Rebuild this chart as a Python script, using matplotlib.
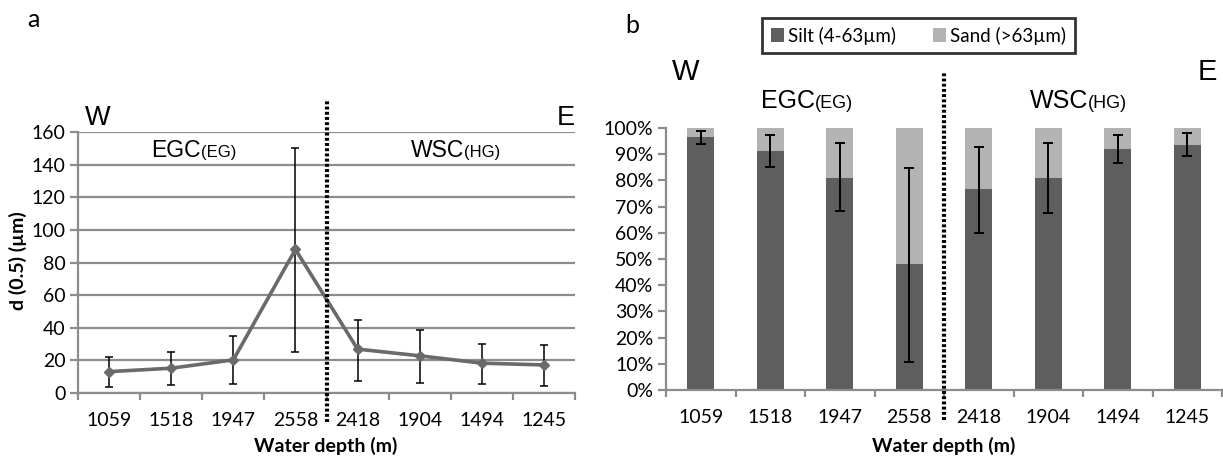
import matplotlib
matplotlib.use("Agg")
import matplotlib.pyplot as plt
from matplotlib.patches import Patch
import numpy as np

# ---------------- data ----------------
categories = ["1059", "1518", "1947", "2558", "2418", "1904", "1494", "1245"]
d50 = [13.1, 15.2, 20.3, 88.0, 26.9, 22.8, 18.3, 17.2]
d50_low = [3.9, 4.7, 5.5, 25.4, 7.6, 6.0, 5.3, 4.5]
d50_high = [22.3, 25.4, 34.7, 150.2, 44.9, 38.8, 30.0, 29.3]

silt = [96.4, 91.3, 81.0, 48.0, 76.6, 80.8, 91.9, 93.5]
sand = [3.6, 8.7, 19.0, 52.0, 23.4, 19.2, 8.1, 6.5]
silt_low = [93.8, 85.2, 68.3, 10.8, 59.8, 67.4, 86.5, 89.3]
silt_high = [99.0, 97.3, 94.4, 84.6, 92.9, 94.4, 97.3, 98.0]

yticks_a = [0, 20, 40, 60, 80, 100, 120, 140, 160]
yticks_b = [0, 10, 20, 30, 40, 50, 60, 70, 80, 90, 100]

# ---------------- style ----------------
W, H = 1223, 457
fig = plt.figure(figsize=(W / 100, H / 100), dpi=100)
TICKFONT = ["Lato", "DejaVu Sans"]
ARIAL = ["Liberation Sans", "DejaVu Sans"]
AXGRAY = "#8c8c8c"
LINEGRAY = "#6a6a6a"
DARK = "#5e5e5e"
LIGHT = "#b3b3b3"
TFS = 14


def fx(px):
    return px / W


def fy(py):
    return 1 - py / H


def style_axis(ax):
    for s in ["top", "right"]:
        ax.spines[s].set_visible(False)
    for s in ["left", "bottom"]:
        ax.spines[s].set_color(AXGRAY)
        ax.spines[s].set_linewidth(1.6)
    x = np.arange(len(categories))
    ax.set_xlim(-0.5, len(categories) - 0.5)
    ax.set_xticks(x)
    ax.set_xticklabels(categories, fontfamily=TICKFONT, fontsize=TFS)
    ax.set_xticks(np.arange(len(categories) + 1) - 0.5, minor=True)
    ax.tick_params(axis="x", which="major", length=0, pad=14)
    ax.tick_params(axis="x", which="minor", length=5, width=1.6, color=AXGRAY, direction="out")
    ax.tick_params(axis="y", which="major", length=6, width=1.6, color=AXGRAY, direction="out", pad=3)
    for lab in ax.get_yticklabels():
        lab.set_fontfamily(TICKFONT)
        lab.set_fontsize(TFS)


# ---------------- panel a ----------------
axa = fig.add_axes([fx(78), fy(393), fx(575) - fx(78), fy(132) - fy(393)])
xa = np.arange(len(categories))
axa.set_ylim(0, 160)
axa.set_yticks(yticks_a)
axa.yaxis.grid(True, color=AXGRAY, linewidth=1.6)
axa.set_axisbelow(True)
yerr_a = [np.array(d50) - np.array(d50_low), np.array(d50_high) - np.array(d50)]
axa.errorbar(xa, d50, yerr=yerr_a, fmt="none", ecolor="black", elinewidth=1.1,
             capsize=3.2, capthick=1.1, zorder=3)
axa.plot(xa, d50, color=LINEGRAY, linewidth=2.6, marker="D", markersize=5.5,
         markerfacecolor=LINEGRAY, markeredgecolor=LINEGRAY, zorder=4)
style_axis(axa)
axa.plot([3.5, 3.5], [-18, 180], color="black", linewidth=3,
         linestyle=(0, (0.7, 0.55)), clip_on=False, zorder=5)

fig.text(fx(27), fy(27), "a", fontsize=18, fontfamily=TICKFONT, va="baseline")
fig.text(fx(85), fy(125), "W", fontsize=19.5, fontfamily=ARIAL, va="baseline")
fig.text(fx(557), fy(125), "E", fontsize=19.5, fontfamily=ARIAL, va="baseline")
fig.text(fx(201), fy(157), "EGC", fontsize=16.5, fontfamily=ARIAL, ha="right", va="baseline")
fig.text(fx(201), fy(157), "(EG)", fontsize=12, fontfamily=ARIAL, ha="left", va="baseline")
fig.text(fx(464), fy(157), "WSC", fontsize=16.5, fontfamily=ARIAL, ha="right", va="baseline")
fig.text(fx(464), fy(157), "(HG)", fontsize=12, fontfamily=ARIAL, ha="left", va="baseline")
fig.text(fx(326), fy(446), "Water depth (m)", fontsize=TFS, fontweight="bold",
         fontfamily=TICKFONT, ha="center", va="center")
fig.text(fx(18), fy(261), "d (0.5) (µm)", fontsize=TFS, fontweight="bold",
         fontfamily=TICKFONT, ha="center", va="center", rotation=90)

# ---------------- panel b ----------------
axb = fig.add_axes([fx(666), fy(390), fx(1222) - fx(666), fy(128) - fy(390)])
xb = np.arange(len(categories))
bw = 0.39
axb.bar(xb, silt, width=bw, color=DARK, label="Silt (4-63µm)", zorder=2)
axb.bar(xb, sand, width=bw, bottom=silt, color=LIGHT, label="Sand (>63µm)", zorder=2)
yerr_b = [np.array(silt) - np.array(silt_low), np.array(silt_high) - np.array(silt)]
axb.errorbar(xb, silt, yerr=yerr_b, fmt="none", ecolor="black", elinewidth=1.4,
             capsize=3.8, capthick=1.4, zorder=3)
axb.set_ylim(0, 100)
axb.set_yticks(yticks_b)
axb.set_yticklabels([f"{v}%" for v in yticks_b])
style_axis(axb)
axb.plot([3.5, 3.5], [-11.5, 121], color="black", linewidth=3,
         linestyle=(0, (0.7, 0.55)), clip_on=False, zorder=5)

fig.text(fx(625), fy(33), "b", fontsize=18, fontfamily=TICKFONT, va="baseline")
fig.text(fx(672), fy(80), "W", fontsize=21, fontfamily=ARIAL, va="baseline")
fig.text(fx(1198), fy(80), "E", fontsize=21, fontfamily=ARIAL, va="baseline")
fig.text(fx(815), fy(108), "EGC", fontsize=18, fontfamily=ARIAL, ha="right", va="baseline")
fig.text(fx(815), fy(108), "(EG)", fontsize=13, fontfamily=ARIAL, ha="left", va="baseline")
fig.text(fx(1088), fy(108), "WSC", fontsize=18, fontfamily=ARIAL, ha="right", va="baseline")
fig.text(fx(1088), fy(108), "(HG)", fontsize=13, fontfamily=ARIAL, ha="left", va="baseline")
fig.text(fx(944), fy(446), "Water depth (m)", fontsize=TFS, fontweight="bold",
         fontfamily=TICKFONT, ha="center", va="center")

handles = [Patch(facecolor=DARK, edgecolor="none"), Patch(facecolor=LIGHT, edgecolor="none")]
leg = fig.legend(handles, ["Silt (4-63µm)", "Sand (>63µm)"], loc="center",
                 bbox_to_anchor=(fx(918.5), fy(35.5)), ncol=2, frameon=True,
                 fancybox=False, handlelength=0.7, handleheight=0.7, handletextpad=0.2,
                 columnspacing=2.0, borderpad=0.45, borderaxespad=0,
                 prop={"family": TICKFONT, "size": 13.5})
leg.get_frame().set_edgecolor("black")
leg.get_frame().set_linewidth(2)

fig.savefig("out.png", dpi=100)
